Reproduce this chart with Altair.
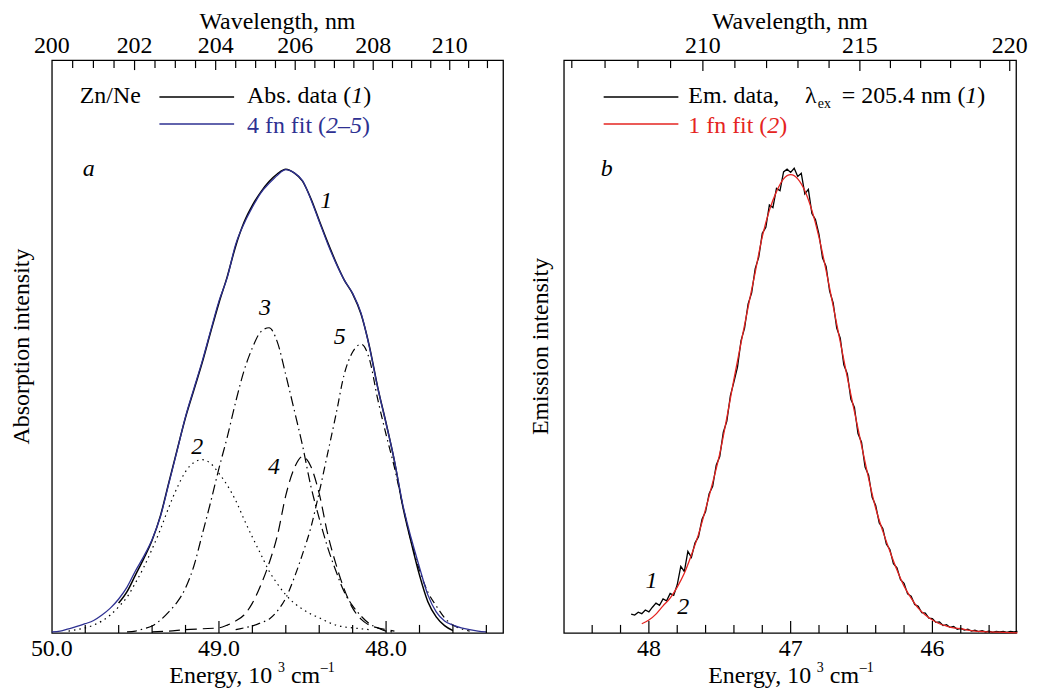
import altair as alt
import pandas as pd

FONT = "Liberation Serif, Times New Roman, Times, serif"
FS = 24
W_A, W_B, H = 453, 454, 575
YMAX = 125
BLUE = "#2e3192"
RED = "#e52421"

# ---------------- panel a : absorption ----------------
FIT_A_E = [50.00, 49.95, 49.90, 49.85, 49.80, 49.75, 49.70, 49.65, 49.60, 49.55,
           49.50, 49.45, 49.40, 49.35, 49.30, 49.25, 49.20, 49.15, 49.10, 49.05,
           49.00, 48.95, 48.90, 48.85, 48.80, 48.75, 48.70, 48.65, 48.60, 48.55,
           48.50, 48.45, 48.40, 48.35, 48.30, 48.25, 48.20, 48.15, 48.10, 48.05,
           48.00, 47.95, 47.90, 47.85, 47.80, 47.75, 47.70, 47.65, 47.60, 47.55,
           47.50, 47.45, 47.40]
FIT_A_I = [0.2, 0.4, 0.9, 1.4, 2.0, 2.7, 3.9, 5.4, 7.4, 10.0,
           13.5, 16.7, 20.4, 25.4, 32.6, 39.8, 47.2, 53.3, 59.3, 65.9,
           72.4, 77.6, 84.8, 89.3, 92.9, 96.0, 98.1, 99.9, 101.1, 100.4,
           98.7, 94.6, 89.8, 85.0, 80.7, 77.0, 74.1, 69.8, 62.4, 53.5,
           45.7, 37.6, 28.0, 20.7, 14.3, 8.3, 4.6, 2.6, 1.7, 1.1,
           0.7, 0.4, 0.2]

ABS_E = [49.60, 49.55, 49.50, 49.45, 49.40, 49.35, 49.30, 49.25, 49.20, 49.15,
         49.10, 49.05, 49.00, 48.95, 48.90, 48.85, 48.80, 48.75, 48.70, 48.65,
         48.60, 48.55, 48.50, 48.45, 48.40, 48.35, 48.30, 48.25, 48.20, 48.15,
         48.10, 48.05, 48.00, 47.95, 47.90, 47.85, 47.80, 47.75, 47.70, 47.65,
         47.60]
ABS_I = [6.5, 9.0, 12.6, 16.2, 20.2, 25.6, 32.8, 40.0, 47.0, 53.0,
         59.0, 65.6, 72.0, 77.8, 84.4, 89.6, 93.3, 96.2, 98.5, 100.2,
         101.2, 100.4, 98.6, 94.8, 90.0, 85.3, 80.9, 77.0, 74.0, 69.6,
         62.6, 53.6, 45.8, 37.5, 27.6, 19.8, 12.6, 6.8, 3.5, 1.6,
         0.5]

C2_E = [49.90, 49.85, 49.80, 49.75, 49.70, 49.65, 49.60, 49.55, 49.50, 49.45,
        49.40, 49.35, 49.30, 49.25, 49.20, 49.15, 49.10, 49.05, 49.00, 48.95,
        48.90, 48.85, 48.80, 48.75, 48.70, 48.65, 48.60, 48.55, 48.50, 48.45,
        48.40, 48.35, 48.30, 48.25, 48.20, 48.15, 48.10]
C2_I = [0.4, 0.7, 1.1, 1.7, 2.6, 3.9, 5.7, 7.8, 10.9, 14.3,
        18.3, 22.6, 27.4, 31.7, 35.2, 37.2, 37.8, 37.0, 34.8, 32.2,
        28.9, 24.8, 20.9, 17.2, 13.5, 10.7, 8.3, 6.5, 5.2, 4.1,
        3.3, 2.4, 1.7, 1.3, 1.1, 0.9, 0.7]

C3_E = [49.55, 49.50, 49.45, 49.40, 49.35, 49.30, 49.25, 49.20, 49.15, 49.10,
        49.05, 49.00, 48.95, 48.90, 48.85, 48.80, 48.75, 48.70, 48.65, 48.60,
        48.55, 48.50, 48.45, 48.40, 48.35, 48.30, 48.25, 48.20, 48.15, 48.10,
        48.05, 48.00, 47.95]
C3_I = [0.2, 0.4, 0.9, 1.5, 2.8, 4.6, 6.7, 9.8, 14.6, 21.5,
        28.5, 35.9, 42.8, 50.4, 57.2, 62.2, 65.7, 66.6, 63.4, 56.3,
        48.7, 40.9, 32.0, 25.0, 18.7, 13.5, 8.9, 5.9, 3.7, 2.0,
        1.1, 0.4, 0.2]

C4_E = [49.40, 49.30, 49.20, 49.10, 49.00, 48.95, 48.90, 48.85, 48.80, 48.75,
        48.70, 48.65, 48.60, 48.55, 48.50, 48.45, 48.40, 48.35, 48.30, 48.25,
        48.20, 48.15, 48.10, 48.05, 48.00, 47.95]
C4_I = [0.2, 0.4, 0.7, 0.9, 1.1, 1.7, 2.6, 3.9, 6.5, 10.4,
        15.2, 21.3, 30.0, 35.9, 38.5, 36.3, 30.4, 21.7, 15.0, 9.5,
        5.4, 3.0, 1.7, 1.1, 0.7, 0.4]

C5_E = [48.90, 48.85, 48.80, 48.75, 48.70, 48.65, 48.60, 48.55, 48.50, 48.45,
        48.40, 48.35, 48.30, 48.25, 48.20, 48.15, 48.10, 48.05, 48.00, 47.95,
        47.90, 47.85, 47.80, 47.75, 47.70, 47.65, 47.60, 47.55, 47.50]
C5_I = [0.7, 1.1, 1.5, 2.2, 3.0, 4.8, 7.6, 12.0, 17.2, 23.0,
        30.7, 39.1, 47.6, 56.5, 61.3, 63.0, 59.8, 51.0, 43.3, 36.1,
        27.8, 20.0, 13.7, 8.9, 5.9, 3.3, 1.7, 0.9, 0.4]

A_XLAB_E = [50.0, 49.0, 48.0]
A_XLAB = ["50.0", "49.0", "48.0"]
A_MINOR_E = [49.8, 49.6, 49.4, 49.2, 48.8, 48.6, 48.4, 48.2, 47.8, 47.6, 47.4]
A_MAJOR_E = [49.0, 48.0]
A_WL_LAB = [200, 202, 204, 206, 208, 210]
A_WL_MAJOR = [202, 204, 206, 208, 210]
A_WL_MINOR = [200.5, 201, 201.5, 202.5, 203, 203.5, 204.5, 205, 205.5, 206.5,
              207, 207.5, 208.5, 209, 209.5, 210.5, 211]
A_CURVE_LAB = ["1", "2", "3", "4", "5"]
A_CURVE_E = [48.358, 49.130, 48.725, 48.671, 48.278]
A_CURVE_I = [92.8, 39.1, 69.3, 34.6, 63.0]

# ---------------- panel b : emission ----------------
FIT_B_E = [48.05, 48.00, 47.95, 47.90, 47.85, 47.80, 47.75, 47.70, 47.65, 47.60,
           47.55, 47.50, 47.45, 47.40, 47.35, 47.30, 47.25, 47.20, 47.15, 47.10,
           47.05, 47.00, 46.95, 46.90, 46.85, 46.80, 46.75, 46.70, 46.65, 46.60,
           46.55, 46.50, 46.45, 46.40, 46.35, 46.30, 46.25, 46.20, 46.15, 46.10,
           46.05, 46.00, 45.95, 45.90, 45.85, 45.80, 45.75, 45.70, 45.65, 45.60,
           45.55, 45.50, 45.45, 45.40]
FIT_B_I = [2.0, 2.8, 4.1, 5.9, 7.6, 10.0, 13.0, 17.0, 21.5, 27.0,
           32.8, 39.1, 47.0, 55.4, 63.3, 71.1, 78.7, 86.5, 92.2, 96.3,
           99.1, 100.0, 99.1, 96.5, 92.2, 86.3, 79.1, 71.3, 63.5, 55.7,
           48.3, 40.9, 33.7, 27.2, 22.2, 17.8, 13.7, 10.2, 7.6, 5.4,
           3.9, 2.8, 2.0, 1.5, 1.1, 0.9, 0.6, 0.4, 0.3, 0.2,
           0.15, 0.1, 0.05, 0.0]

EM_E = [48.125, 48.100, 48.075, 48.050, 48.025, 48.000, 47.975, 47.950, 47.925, 47.900,
        47.875, 47.850, 47.825, 47.800, 47.775, 47.750, 47.725, 47.700, 47.675, 47.650,
        47.625, 47.600, 47.575, 47.550, 47.525, 47.500, 47.475, 47.450, 47.425, 47.400,
        47.375, 47.350, 47.325, 47.300, 47.275, 47.250, 47.225, 47.200, 47.175, 47.150,
        47.125, 47.100, 47.075, 47.050, 47.025, 47.000, 46.975, 46.950, 46.925, 46.900,
        46.875, 46.850, 46.825, 46.800, 46.775, 46.750, 46.725, 46.700, 46.675, 46.650,
        46.625, 46.600, 46.575, 46.550, 46.525, 46.500, 46.475, 46.450, 46.425, 46.400,
        46.375, 46.350, 46.325, 46.300, 46.275, 46.250, 46.225, 46.200, 46.175, 46.150,
        46.125, 46.100, 46.075, 46.050, 46.025, 46.000, 45.975, 45.950, 45.925, 45.900,
        45.875, 45.850, 45.825, 45.800, 45.775, 45.750, 45.725, 45.700, 45.675, 45.650,
        45.625, 45.600, 45.575, 45.550, 45.525, 45.500, 45.475, 45.450, 45.425, 45.400]
EM_I = [4.1, 3.9, 4.5, 4.2, 5.0, 4.6, 5.6, 6.5, 6.0, 7.4,
        7.0, 8.6, 8.2, 10.5, 14.5, 13.4, 17.8, 16.5, 19.6, 21.0,
        24.8, 26.5, 30.4, 32.0, 36.6, 38.5, 43.8, 46.2, 51.8, 54.8,
        58.0, 63.8, 66.5, 71.8, 74.2, 79.5, 82.0, 87.2, 88.5, 93.4,
        92.8, 97.0, 96.5, 100.6, 101.2, 100.5, 101.4, 99.6, 100.3, 95.8,
        96.8, 91.5, 90.2, 87.0, 81.8, 80.0, 74.6, 72.0, 66.5, 64.3,
        58.5, 56.5, 51.0, 49.2, 43.5, 41.6, 36.2, 34.4, 29.6, 27.8,
        24.0, 22.8, 19.4, 18.2, 15.1, 14.2, 11.6, 10.8, 8.5, 8.0,
        6.2, 5.8, 4.4, 4.3, 3.2, 3.1, 2.3, 2.4, 1.6, 1.8,
        1.2, 1.4, 0.8, 1.0, 0.6, 0.8, 0.4, 0.6, 0.3, 0.5,
        0.2, 0.4, 0.1, 0.3, 0.2, 0.3, 0.1, 0.3, 0.2, 0.3]

B_XLAB_E = [48.0, 47.0, 46.0]
B_XLAB = ["48", "47", "46"]
B_MINOR_E = [48.4, 48.2, 47.8, 47.6, 47.4, 47.2, 46.8, 46.6, 46.4, 46.2, 45.8, 45.6]
B_MAJOR_E = [48.0, 47.0, 46.0]
B_WL_LAB = [210, 215, 220]
B_WL_MAJOR = [210, 215, 220]
B_WL_MINOR = [206, 207, 208, 209, 211, 212, 213, 214, 216, 217, 218, 219]
B_CURVE_LAB = ["1", "2"]
B_CURVE_E = [47.982, 47.758]
B_CURVE_I = [9.8, 4.1]


def xenc(dom):
    return alt.X("E:Q", scale=alt.Scale(domain=dom, nice=False, zero=False), axis=None)


YENC = alt.Y("I:Q", scale=alt.Scale(domain=[0, YMAX], nice=False, zero=True), axis=None)


def curve(e, i, dom, color="black", width=1.4, dash=None, interp="monotone"):
    kw = dict(color=color, strokeWidth=width, interpolate=interp)
    if dash:
        kw["strokeDash"] = dash
    return alt.Chart(pd.DataFrame({"E": e, "I": i})).mark_line(**kw).encode(
        x=xenc(dom), y=YENC, order="idx:Q"
    ).transform_window(idx="row_number()")


def txt(s, x, y, size=FS, italic=False, color="black", align="left",
        baseline="alphabetic", angle=0):
    return alt.Chart(pd.DataFrame({"t": [s]})).mark_text(
        font=FONT, fontSize=size, fontStyle="italic" if italic else "normal",
        color=color, align=align, baseline=baseline, angle=angle
    ).encode(x=alt.value(x), y=alt.value(y), text="t:N")


def seg(x1, x2, y, color):
    return alt.Chart(pd.DataFrame({"k": [0]})).mark_rule(
        color=color, strokeWidth=1.5
    ).encode(x=alt.value(x1), x2=alt.value(x2), y=alt.value(y))


def eticks(vals, dom, length):
    return alt.Chart(pd.DataFrame({"E": vals})).mark_rule(
        color="black", strokeWidth=1.2
    ).encode(x=xenc(dom), y=alt.value(H), y2=alt.value(H - length))


def wticks(vals, dom, length):
    return alt.Chart(pd.DataFrame({"nm": vals})).transform_calculate(
        E="10000 / datum.nm"
    ).mark_rule(color="black", strokeWidth=1.2).encode(
        x=xenc(dom), y=alt.value(0), y2=alt.value(length))


def wlabels(vals, dom):
    return alt.Chart(pd.DataFrame({"nm": vals})).transform_calculate(
        E="10000 / datum.nm"
    ).mark_text(font=FONT, fontSize=FS, baseline="alphabetic", align="center",
                color="black").encode(x=xenc(dom), y=alt.value(-7), text="nm:N")


def elabels(vals, labs, dom):
    return alt.Chart(pd.DataFrame({"E": vals, "t": labs})).mark_text(
        font=FONT, fontSize=FS, baseline="alphabetic", align="center", color="black"
    ).encode(x=xenc(dom), y=alt.value(H + 23), text="t:N")


def curve_labels(labs, e, i, dom):
    return alt.Chart(pd.DataFrame({"E": e, "I": i, "t": labs})).mark_text(
        font=FONT, fontSize=FS, fontStyle="italic", baseline="alphabetic",
        align="center", color="black"
    ).encode(x=xenc(dom), y=YENC, text="t:N")


def energy_title(x0):
    base = H + 50
    return [
        txt("Energy, 10", x0, base),
        txt("3", x0 + 109, base - 11, size=14),
        txt("cm", x0 + 122, base),
        txt("\u20131", x0 + 152, base - 11, size=14),
    ]


# ---------------- build panel a ----------------
DOM_A = [50.0, 47.3]
layers_a = [
    curve(C2_E, C2_I, DOM_A, width=1.2, dash=[1.5, 4]),
    curve(C3_E, C3_I, DOM_A, width=1.2, dash=[10, 4, 1.5, 4]),
    curve(C4_E, C4_I, DOM_A, width=1.2, dash=[11, 6]),
    curve(C5_E, C5_I, DOM_A, width=1.2, dash=[8, 4, 1.5, 4]),
    curve(ABS_E, ABS_I, DOM_A, color="black", width=1.5),
    curve(FIT_A_E, FIT_A_I, DOM_A, color=BLUE, width=1.3),
    eticks(A_MINOR_E, DOM_A, 8),
    eticks(A_MAJOR_E, DOM_A, 12),
    wticks(A_WL_MINOR, DOM_A, 8),
    wticks(A_WL_MAJOR, DOM_A, 10),
    wlabels(A_WL_LAB, DOM_A),
    elabels(A_XLAB_E, A_XLAB, DOM_A),
    curve_labels(A_CURVE_LAB, A_CURVE_E, A_CURVE_I, DOM_A),
    txt("Wavelength, nm", W_A / 2, -31, align="center"),
    txt("Absorption intensity", -30, H / 2, align="center", baseline="middle", angle=270),
    txt("Zn/Ne", 28, 43),
    seg(108, 183, 37, "black"),
    txt("Abs. data (", 196, 43),
    txt("1", 300.6, 43, italic=True),
    txt(")", 312.6, 43),
    seg(108, 183, 64, BLUE),
    txt("4 fn fit (", 196, 73, color=BLUE),
    txt("2\u20135", 275.3, 73, italic=True, color=BLUE),
    txt(")", 311.3, 73, color=BLUE),
    txt("a", 31, 116, italic=True),
] + energy_title(118)
panel_a = alt.layer(*layers_a).properties(width=W_A, height=H)

# ---------------- build panel b ----------------
DOM_B = [48.6, 45.41]
layers_b = [
    curve(EM_E, EM_I, DOM_B, color="black", width=1.3, interp="linear"),
    curve(FIT_B_E, FIT_B_I, DOM_B, color=RED, width=1.3),
    eticks(B_MINOR_E, DOM_B, 8),
    eticks(B_MAJOR_E, DOM_B, 12),
    wticks(B_WL_MINOR, DOM_B, 8),
    wticks(B_WL_MAJOR, DOM_B, 11),
    wlabels(B_WL_LAB, DOM_B),
    elabels(B_XLAB_E, B_XLAB, DOM_B),
    curve_labels(B_CURVE_LAB, B_CURVE_E, B_CURVE_I, DOM_B),
    txt("Wavelength, nm", W_B / 2, -31, align="center"),
    txt("Emission intensity", -23, H / 2, align="center", baseline="middle", angle=270),
    seg(40, 115, 37, "black"),
    txt("Em. data,", 125, 43),
    txt("\u03bb", 242, 43),
    txt("ex", 255, 48, size=14),
    txt("= 205.4 nm (", 279, 43),
    txt("1", 403, 43, italic=True),
    txt(")", 415, 43),
    seg(40, 115, 64, RED),
    txt("1 fn fit (", 125, 73, color=RED),
    txt("2", 204.3, 73, italic=True, color=RED),
    txt(")", 216.3, 73, color=RED),
    txt("b", 37, 116, italic=True),
] + energy_title(145)
panel_b = alt.layer(*layers_b).properties(width=W_B, height=H)

chart = alt.hconcat(panel_a, panel_b, spacing=24).properties(
    padding={"left": 1, "top": 0, "right": 0, "bottom": 0}
).configure_view(stroke="black", strokeWidth=1.3)

chart.save("out.html", embed_options={"renderer": "svg", "actions": False})
